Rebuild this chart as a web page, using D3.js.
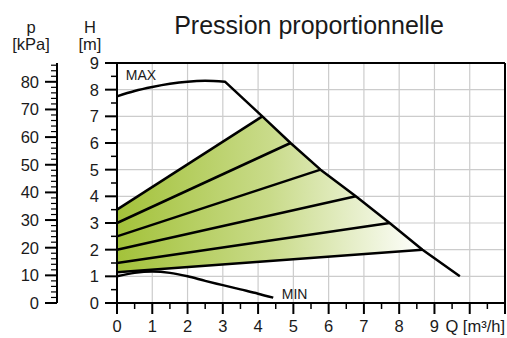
<!DOCTYPE html>
<html>
<head>
<meta charset="utf-8">
<script src="https://cdn.jsdelivr.net/npm/d3@7"></script>
<style>
  body { margin: 0; background: #fff; }
  svg text { font-family: "Liberation Sans", Arial, sans-serif; fill: #1a1a1a; }
</style>
</head>
<body>
<div id="chart"></div>
<script>
// Q in m³/h, H in m
const maxCurve = [[0, 7.75], [0.5, 7.95], [1, 8.1], [1.5, 8.22], [2, 8.3], [2.5, 8.33], [3.06, 8.3],
  [4.12, 7.0], [4.92, 6.0], [5.77, 5.0], [6.77, 4.0], [7.73, 3.0], [8.66, 2.0], [9.72, 1.0]];
const minCurve = [[0, 1.0], [0.5, 1.13], [1, 1.18], [1.5, 1.13], [2, 1.0], [2.5, 0.83],
  [3, 0.67], [3.5, 0.51], [4, 0.35], [4.43, 0.2]];
const propLines = [
  [[0, 3.5], [4.12, 7.0]],
  [[0, 3.0], [4.92, 6.0]],
  [[0, 2.5], [5.77, 5.0]],
  [[0, 2.0], [6.77, 4.0]],
  [[0, 1.5], [7.73, 3.0]],
  [[0, 1.15], [8.66, 2.0]]
];
const qTicks = [0, 1, 2, 3, 4, 5, 6, 7, 8, 9];
const hTicks = [0, 1, 2, 3, 4, 5, 6, 7, 8, 9];
const pTicks = [0, 10, 20, 30, 40, 50, 60, 70, 80];

const width = 507, height = 338;
const svg = d3.select("#chart").append("svg")
  .attr("width", width)
  .attr("height", height);

const x = d3.scaleLinear().domain([0, 11]).range([117, 505]);
const y = d3.scaleLinear().domain([0, 9]).range([303, 63]);
const p = d3.scaleLinear().domain([0, 86.8]).range([303, 63]);

const line = d3.line().x(d => x(d[0])).y(d => y(d[1]));

// gradient for the operating area
const grad = svg.append("defs").append("linearGradient")
  .attr("id", "green")
  .attr("gradientUnits", "userSpaceOnUse")
  .attr("x1", x(0)).attr("x2", x(8.7))
  .attr("y1", 0).attr("y2", 0);
grad.append("stop").attr("offset", "0%").attr("stop-color", "#a3c23a");
grad.append("stop").attr("offset", "50%").attr("stop-color", "#c9db8a");
grad.append("stop").attr("offset", "100%").attr("stop-color", "#ffffff");

// grid
svg.append("g").selectAll("line.v")
  .data(d3.range(1, 11))
  .join("line")
  .attr("x1", d => x(d)).attr("x2", d => x(d))
  .attr("y1", y(0)).attr("y2", y(9))
  .attr("stroke", "#cccccc").attr("stroke-width", 1.2);
svg.append("g").selectAll("line.h")
  .data(d3.range(1, 9))
  .join("line")
  .attr("x1", x(0)).attr("x2", x(11))
  .attr("y1", d => y(d)).attr("y2", d => y(d))
  .attr("stroke", "#cccccc").attr("stroke-width", 1.2);

// green area: top prop line, max curve, bottom prop line
const first = propLines[0], last = propLines[propLines.length - 1];
const iStart = maxCurve.findIndex(d => d[0] === first[1][0]);
const iEnd = maxCurve.findIndex(d => d[0] === last[1][0]);
const area = [first[0]].concat(maxCurve.slice(iStart, iEnd + 1), [last[0]]);
svg.append("path")
  .attr("d", line(area) + "Z")
  .attr("fill", "url(#green)");

// curves
const curveLine = d3.line().x(d => x(d[0])).y(d => y(d[1])).curve(d3.curveMonotoneX);
svg.append("path")
  .attr("d", curveLine(maxCurve.slice(0, 7)) + line(maxCurve.slice(6)).replace("M", "L"))
  .attr("fill", "none").attr("stroke", "#000").attr("stroke-width", 2.5)
  .attr("stroke-linejoin", "round");
svg.append("path")
  .attr("d", curveLine(minCurve))
  .attr("fill", "none").attr("stroke", "#000").attr("stroke-width", 2.5);
propLines.forEach(l => {
  svg.append("path")
    .attr("d", line(l))
    .attr("fill", "none").attr("stroke", "#000").attr("stroke-width", 2.5);
});

svg.append("text").attr("x", x(0.25)).attr("y", y(8.55)).attr("dy", "0.35em")
  .attr("font-size", 14).text("MAX");
svg.append("text").attr("x", x(4.67)).attr("y", y(0.33)).attr("dy", "0.35em")
  .attr("font-size", 14).text("MIN");

// frame: top and right borders
svg.append("line").attr("x1", x(0) - 12).attr("x2", x(11)).attr("y1", y(9)).attr("y2", y(9))
  .attr("stroke", "#000").attr("stroke-width", 2);
svg.append("line").attr("x1", x(11)).attr("x2", x(11)).attr("y1", y(9)).attr("y2", y(0))
  .attr("stroke", "#000").attr("stroke-width", 2);

// H axis
const hAxis = svg.append("g");
hAxis.append("line").attr("x1", x(0)).attr("x2", x(0)).attr("y1", y(9)).attr("y2", y(0) + 11)
  .attr("stroke", "#000").attr("stroke-width", 2);
hAxis.selectAll("line.minor")
  .data(d3.range(0.5, 9, 1))
  .join("line")
  .attr("x1", x(0) - 6).attr("x2", x(0))
  .attr("y1", d => y(d)).attr("y2", d => y(d))
  .attr("stroke", "#000").attr("stroke-width", 1.5);
hAxis.selectAll("line.major")
  .data(hTicks)
  .join("line")
  .attr("x1", x(0) - 12).attr("x2", x(0))
  .attr("y1", d => y(d)).attr("y2", d => y(d))
  .attr("stroke", "#000").attr("stroke-width", 2);
hAxis.selectAll("text")
  .data(hTicks)
  .join("text")
  .attr("x", x(0) - 18).attr("y", d => y(d)).attr("dy", "0.36em")
  .attr("text-anchor", "end").attr("font-size", 16.5)
  .text(d => d);

// Q axis
const qAxis = svg.append("g");
qAxis.append("line").attr("x1", x(0) - 12).attr("x2", x(11)).attr("y1", y(0)).attr("y2", y(0))
  .attr("stroke", "#000").attr("stroke-width", 2);
qAxis.selectAll("line.minor")
  .data(d3.range(0.5, 11, 1))
  .join("line")
  .attr("x1", d => x(d)).attr("x2", d => x(d))
  .attr("y1", y(0)).attr("y2", y(0) + 6)
  .attr("stroke", "#000").attr("stroke-width", 1.5);
qAxis.selectAll("line.major")
  .data(d3.range(1, 12))
  .join("line")
  .attr("x1", d => x(d)).attr("x2", d => x(d))
  .attr("y1", y(0)).attr("y2", y(0) + 11)
  .attr("stroke", "#000").attr("stroke-width", 2);
qAxis.selectAll("text")
  .data(qTicks)
  .join("text")
  .attr("x", d => x(d)).attr("y", y(0) + 23).attr("dy", "0.36em")
  .attr("text-anchor", "middle").attr("font-size", 16.5)
  .text(d => d);
qAxis.append("text")
  .attr("x", x(9) + 11).attr("y", y(0) + 23).attr("dy", "0.36em")
  .attr("font-size", 16.5).text("Q [m³/h]");

// p axis
const pX = 57;
const pAxis = svg.append("g");
pAxis.append("line").attr("x1", pX).attr("x2", pX).attr("y1", p(86.8)).attr("y2", p(0))
  .attr("stroke", "#000").attr("stroke-width", 2);
pAxis.selectAll("line.minor")
  .data(d3.range(2, 87, 2).filter(d => d % 10 !== 0))
  .join("line")
  .attr("x1", pX - 6).attr("x2", pX)
  .attr("y1", d => p(d)).attr("y2", d => p(d))
  .attr("stroke", "#000").attr("stroke-width", 1.2);
pAxis.selectAll("line.major")
  .data(pTicks)
  .join("line")
  .attr("x1", pX - 12).attr("x2", pX)
  .attr("y1", d => p(d)).attr("y2", d => p(d))
  .attr("stroke", "#000").attr("stroke-width", 2);
pAxis.selectAll("text")
  .data(pTicks)
  .join("text")
  .attr("x", pX - 18).attr("y", d => p(d)).attr("dy", "0.36em")
  .attr("text-anchor", "end").attr("font-size", 16.5)
  .text(d => d);

// axis titles
svg.append("text").attr("x", 31).attr("y", 27).attr("dy", "0.35em")
  .attr("text-anchor", "middle").attr("font-size", 16.5).text("p");
svg.append("text").attr("x", 31).attr("y", 44).attr("dy", "0.35em")
  .attr("text-anchor", "middle").attr("font-size", 16.5).text("[kPa]");
svg.append("text").attr("x", 90).attr("y", 27).attr("dy", "0.35em")
  .attr("text-anchor", "middle").attr("font-size", 16.5).text("H");
svg.append("text").attr("x", 90).attr("y", 44).attr("dy", "0.35em")
  .attr("text-anchor", "middle").attr("font-size", 16.5).text("[m]");

svg.append("text").attr("x", 309).attr("y", 25).attr("dy", "0.35em")
  .attr("text-anchor", "middle").attr("font-size", 25).text("Pression proportionnelle");
</script>
</body>
</html>
